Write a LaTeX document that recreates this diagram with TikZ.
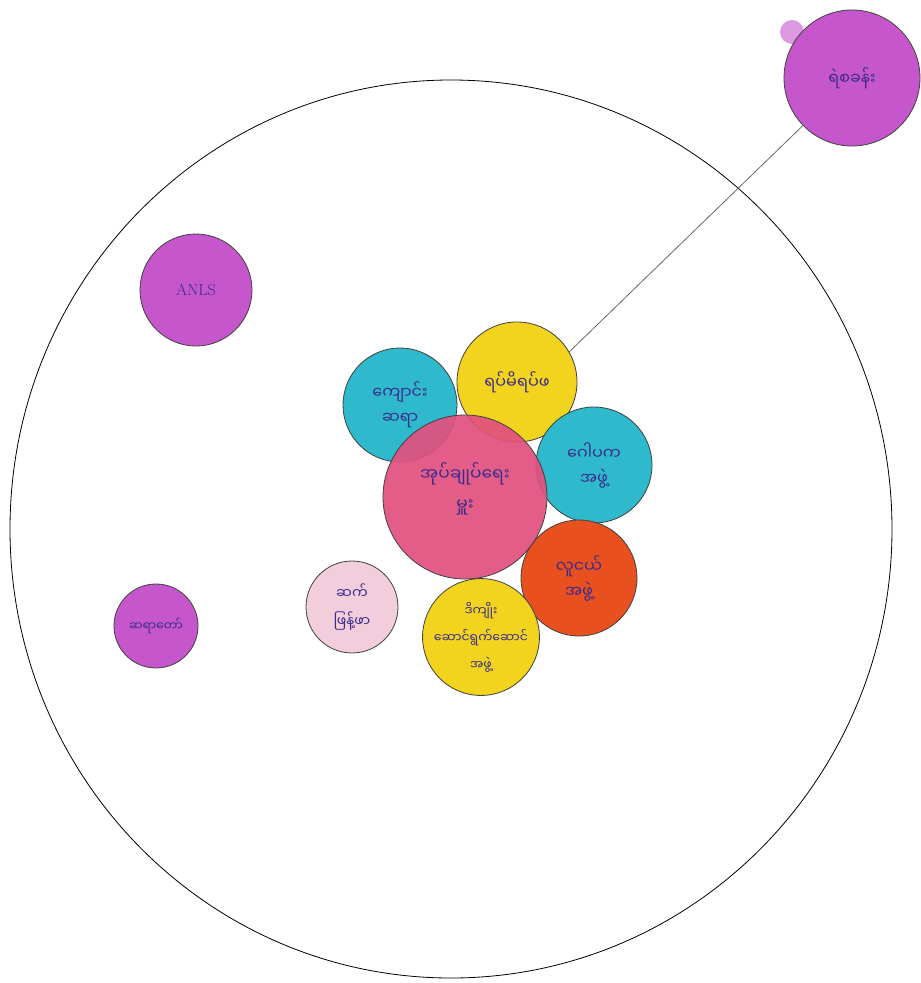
\documentclass[tikz,border=0pt]{standalone}
\usepackage{fontspec}
\newfontfamily\mya[Script=Myanmar]{Noto Sans Myanmar UI}
\begin{document}
\begin{tikzpicture}[x=1pt,y=-1pt,
  blob/.style={circle,draw=black!75,line width=0.8pt,inner sep=0pt,align=center,
    font=\mya\fontsize{16}{25}\selectfont,text=txt},
  lbl/.style={align=center,inner sep=0pt,text=txt},
  ]
\definecolor{txt}{HTML}{3A2C8C}
\definecolor{mag}{HTML}{C656CC}
\definecolor{cya}{HTML}{2FB9CC}
\definecolor{yel}{HTML}{F2D41E}
\definecolor{pnk}{HTML}{E2507E}
\definecolor{org}{HTML}{E9501F}
\definecolor{lpk}{HTML}{F2CEDC}
\useasboundingbox (0,0) rectangle (921,983);
\fill[white] (0,0) rectangle (921,983);
% big community circle
\draw[line width=0.8pt] (451,529) ellipse [x radius=441, y radius=449];
% outside circle
\fill[mag!60] (792,32) circle (12);
\node[blob,fill=mag,minimum size=136pt] (police) at (852,78) {ရဲစခန်း};
% left
\node[blob,fill=mag,minimum size=112pt] (nld) at (196,290) {\rmfamily\fontsize{16}{18}\selectfont ANLS};
\node[blob,fill=mag,minimum size=84pt,font=\mya\fontsize{12}{16}\selectfont] (monk) at (156,626) {ဆရာတော်};
% cluster
\node[blob,fill=cya,minimum size=114pt] (school) at (400,405) {ကျောင်း\\ဆရာ};
\node[blob,fill=yel,minimum size=120pt] (elders) at (517,382) {ရပ်မိရပ်ဖ};
\node[blob,fill=cya,minimum size=116pt] (gawpaka) at (594,465) {ဂေါပက\\အဖွဲ့};
\node[blob,fill=org,minimum size=116pt] (youth) at (579,578) {လူငယ်\\အဖွဲ့};
\node[blob,fill=yel,minimum size=116pt,font=\mya\fontsize{12.5}{27}\selectfont] (welfare) at (481,637) {ဒိကျိုး\\ဆောင်ရွက်ဆောင်\\အဖွဲ့};
\node[blob,fill=lpk,minimum size=92pt,font=\mya\fontsize{14}{28}\selectfont] (dist) at (352,607) {ဆက်\\ဖြန့်ဖာ};
\node[blob,fill=pnk,fill opacity=0.92,minimum size=164pt] (admin) at (465,497) {};
\node[lbl,font=\mya\fontsize{17}{30}\selectfont] (admintext) at (465,489) {အုပ်ချုပ်ရေး\\မှူး};
% connector
\draw[black!60,line width=0.8pt] (elders.30) -- (police);
\end{tikzpicture}
\end{document}
